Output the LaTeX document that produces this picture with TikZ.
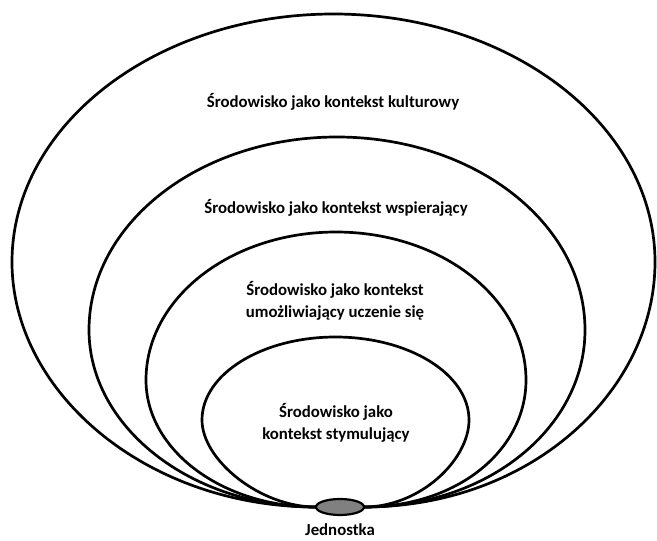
\documentclass[tikz,border=0pt]{standalone}
\usepackage{fontspec}
\setmainfont{Carlito}
\usetikzlibrary{shapes.geometric}
\begin{document}
\begin{tikzpicture}[x=1pt,y=-1pt,
  ring/.style={draw=black,line width=2.7pt},
  lbl/.style={font=\bfseries\fontsize{16.8}{22}\selectfont,align=center,inner sep=0pt}]
\useasboundingbox (0,0) rectangle (657,541);
% outer
\draw[ring] (316,507) .. controls (146,507) and (12,392) .. (12,262)
  .. controls (12,125) and (156,14) .. (333.5,14)
  .. controls (511,14) and (655,125) .. (655,262)
  .. controls (655,392) and (530,507) .. (364,507);
% second
\draw[ring] (316,507) .. controls (191,507) and (89,427) .. (89,330)
  .. controls (89,223) and (200,137) .. (337,137)
  .. controls (474,137) and (585,223) .. (585,330)
  .. controls (585,427) and (489,507) .. (364,507);
% third
\draw[ring] (316,507) .. controls (222,507) and (146,450) .. (146,380)
  .. controls (146,298) and (231,232) .. (336,232)
  .. controls (441,232) and (526,298) .. (526,380)
  .. controls (526,450) and (458,507) .. (364,507);
% fourth
\draw[ring] (316,507) .. controls (260,507) and (202,460) .. (202,420)
  .. controls (202,374) and (262,337) .. (335.5,337)
  .. controls (409,337) and (469,374) .. (469,420)
  .. controls (469,460) and (420,507) .. (364,507);
\node[ellipse,draw=black,line width=2.2pt,fill={rgb,255:red,128;green,128;blue,128},
  minimum width=48pt,minimum height=16pt,inner sep=0pt] (ind) at (340,507) {};
\node[lbl] (t1) at (333,102) {Środowisko jako kontekst kulturowy};
\node[lbl] (t2) at (336,208) {Środowisko jako kontekst wspierający};
\node[lbl] (t3) at (335,301) {Środowisko jako kontekst\\umożliwiający uczenie się};
\node[lbl] (t4) at (336,423) {Środowisko jako\\kontekst stymulujący};
\node[lbl] (t5) at (340,530) {Jednostka};
\end{tikzpicture}
\end{document}
